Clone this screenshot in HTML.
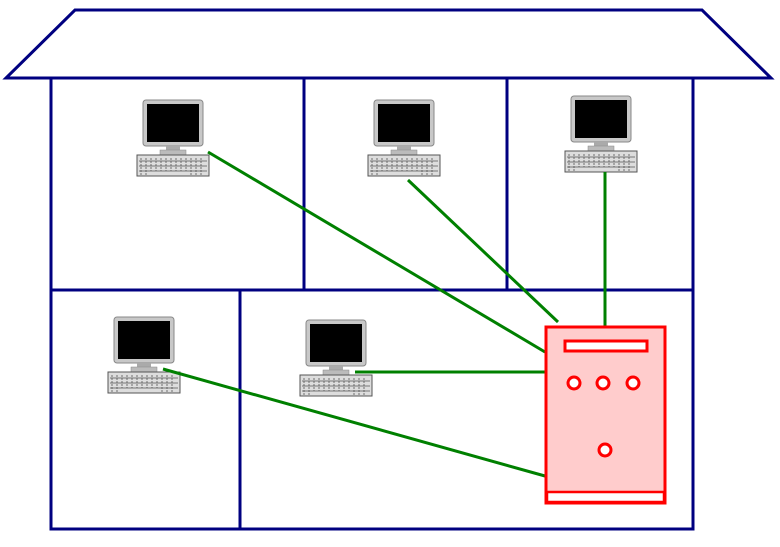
<!DOCTYPE html>
<html><head><style>body{margin:0;background:#fff}svg{display:block}</style></head><body>
<svg width="780" height="547" xmlns="http://www.w3.org/2000/svg">
<defs>
<g id="pc">
<rect x="0" y="0" width="60" height="46" rx="3" fill="#c8c8c8" stroke="#888" stroke-width="1"/>
<rect x="4" y="4" width="52" height="38" fill="#000"/>
<rect x="23" y="46" width="14" height="5" fill="#aaa"/>
<rect x="17" y="50" width="26" height="5" fill="#bbb" stroke="#888" stroke-width="0.5"/>
<rect x="-6" y="55" width="72" height="21" fill="#ddd" stroke="#555" stroke-width="1"/>
<g stroke="#555" stroke-width="0.8" fill="none">
<line x1="-4" y1="61" x2="64" y2="61"/><line x1="-4" y1="66" x2="64" y2="66"/><line x1="-4" y1="71" x2="64" y2="71"/>
<path d="M-2 58V75M3 58V75M8 58V71M13 58V71M18 58V71M23 58V71M28 58V71M33 58V71M38 58V71M43 58V71M48 58V75M53 58V75M58 58V75" stroke-dasharray="2 1"/>
</g>
</g>
</defs>
<polygon points="75,10 702,10 771,78 6,78" fill="#fff" stroke="#000080" stroke-width="3"/>
<rect x="51" y="78" width="642" height="451" fill="#fff" stroke="#000080" stroke-width="3"/>
<g stroke="#000080" stroke-width="3">
<line x1="304" y1="78" x2="304" y2="290"/>
<line x1="507" y1="78" x2="507" y2="290"/>
<line x1="51" y1="290" x2="693" y2="290"/>
<line x1="240" y1="290" x2="240" y2="529"/>
</g>
<use href="#pc" x="143" y="100"/>
<use href="#pc" x="374" y="100"/>
<use href="#pc" x="571" y="96"/>
<use href="#pc" x="114" y="317"/>
<use href="#pc" x="306" y="320"/>
<g stroke="#008000" stroke-width="3">
<line x1="208" y1="152" x2="545" y2="352"/>
<line x1="408" y1="180" x2="558" y2="322"/>
<line x1="605" y1="172" x2="605" y2="326"/>
<line x1="355" y1="372" x2="545" y2="372"/>
<line x1="163" y1="369" x2="545" y2="476"/>
</g>
<rect x="546" y="327" width="119" height="176" fill="#ffcccc" stroke="#f00" stroke-width="3"/>
<rect x="547" y="492" width="117" height="10" fill="#fff" stroke="#f00" stroke-width="2.5"/>
<rect x="565" y="341" width="82" height="10" fill="#fff" stroke="#f00" stroke-width="3"/>
<g fill="#fff" stroke="#f00" stroke-width="3">
<circle cx="574" cy="383" r="6"/><circle cx="603" cy="383" r="6"/><circle cx="633" cy="383" r="6"/><circle cx="605" cy="450" r="6"/>
</g>
</svg>
</body></html>
